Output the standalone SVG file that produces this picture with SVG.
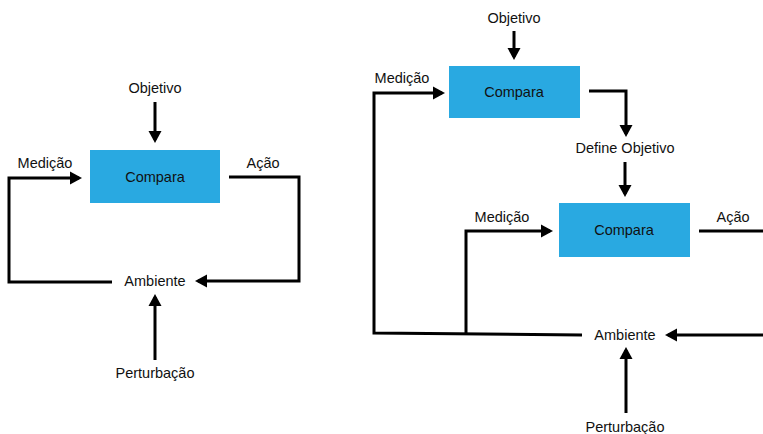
<svg xmlns="http://www.w3.org/2000/svg" width="763" height="434" viewBox="0 0 763 434">
<style>
.box{fill:#29a9e1;}
.t{font-family:"Liberation Sans",Arial,sans-serif;font-size:14.5px;fill:#111;text-anchor:middle;}
.c{fill:none;stroke:#000;stroke-width:3;stroke-linejoin:miter;}
</style>
<defs>
<marker id="ah" markerUnits="userSpaceOnUse" markerWidth="13" markerHeight="14" refX="9" refY="7" orient="auto">
<path d="M0,0.5 L12,7 L0,13.5 z" fill="#000"/>
</marker>
</defs>
<rect width="763" height="434" fill="#fff"/>
<g id="connectors">
<path class="c" d="M155,102 L155,140" marker-end="url(#ah)"/>
<path class="c" d="M112,282 L9,282 L9,178 L79,178" marker-end="url(#ah)"/>
<path class="c" d="M229,177 L299,177 L299,281 L198,281" marker-end="url(#ah)"/>
<path class="c" d="M155,360 L155,297" marker-end="url(#ah)"/>
<path class="c" d="M514,31 L514,57" marker-end="url(#ah)"/>
<path class="c" d="M589,91 L626,91 L626,134" marker-end="url(#ah)"/>
<path class="c" d="M625,162 L625,194" marker-end="url(#ah)"/>
<path class="c" d="M582,335 L374,333 L374,93 L442,93" marker-end="url(#ah)"/>
<path class="c" d="M466,334 L466,231 L550,231" marker-end="url(#ah)"/>
<path class="c" d="M699,231 L763,231"/>
<path class="c" d="M763,335 L668,335" marker-end="url(#ah)"/>
<path class="c" d="M626,413 L626,350" marker-end="url(#ah)"/>
</g>
<g id="objetivo1"><text class="t" x="155" y="93">Objetivo</text></g>
<g id="compara1"><rect class="box" x="90" y="150" width="130" height="53"/><text class="t" x="155" y="182">Compara</text></g>
<g id="medicao1"><text class="t" x="45" y="168">Medição</text></g>
<g id="acao1"><text class="t" x="263" y="168">Ação</text></g>
<g id="ambiente1"><text class="t" x="155" y="286">Ambiente</text></g>
<g id="perturbacao1"><text class="t" x="155" y="378">Perturbação</text></g>
<g id="objetivo2"><text class="t" x="514" y="23">Objetivo</text></g>
<g id="compara2"><rect class="box" x="449" y="66" width="131" height="52"/><text class="t" x="514" y="97">Compara</text></g>
<g id="medicao2"><text class="t" x="402" y="83">Medição</text></g>
<g id="define"><text class="t" x="625" y="153">Define Objetivo</text></g>
<g id="compara3"><rect class="box" x="559" y="203" width="131" height="54"/><text class="t" x="624" y="235">Compara</text></g>
<g id="medicao3"><text class="t" x="502" y="222">Medição</text></g>
<g id="acao2"><text class="t" x="733" y="222">Ação</text></g>
<g id="ambiente2"><text class="t" x="625" y="340">Ambiente</text></g>
<g id="perturbacao2"><text class="t" x="625" y="432">Perturbação</text></g>
</svg>
